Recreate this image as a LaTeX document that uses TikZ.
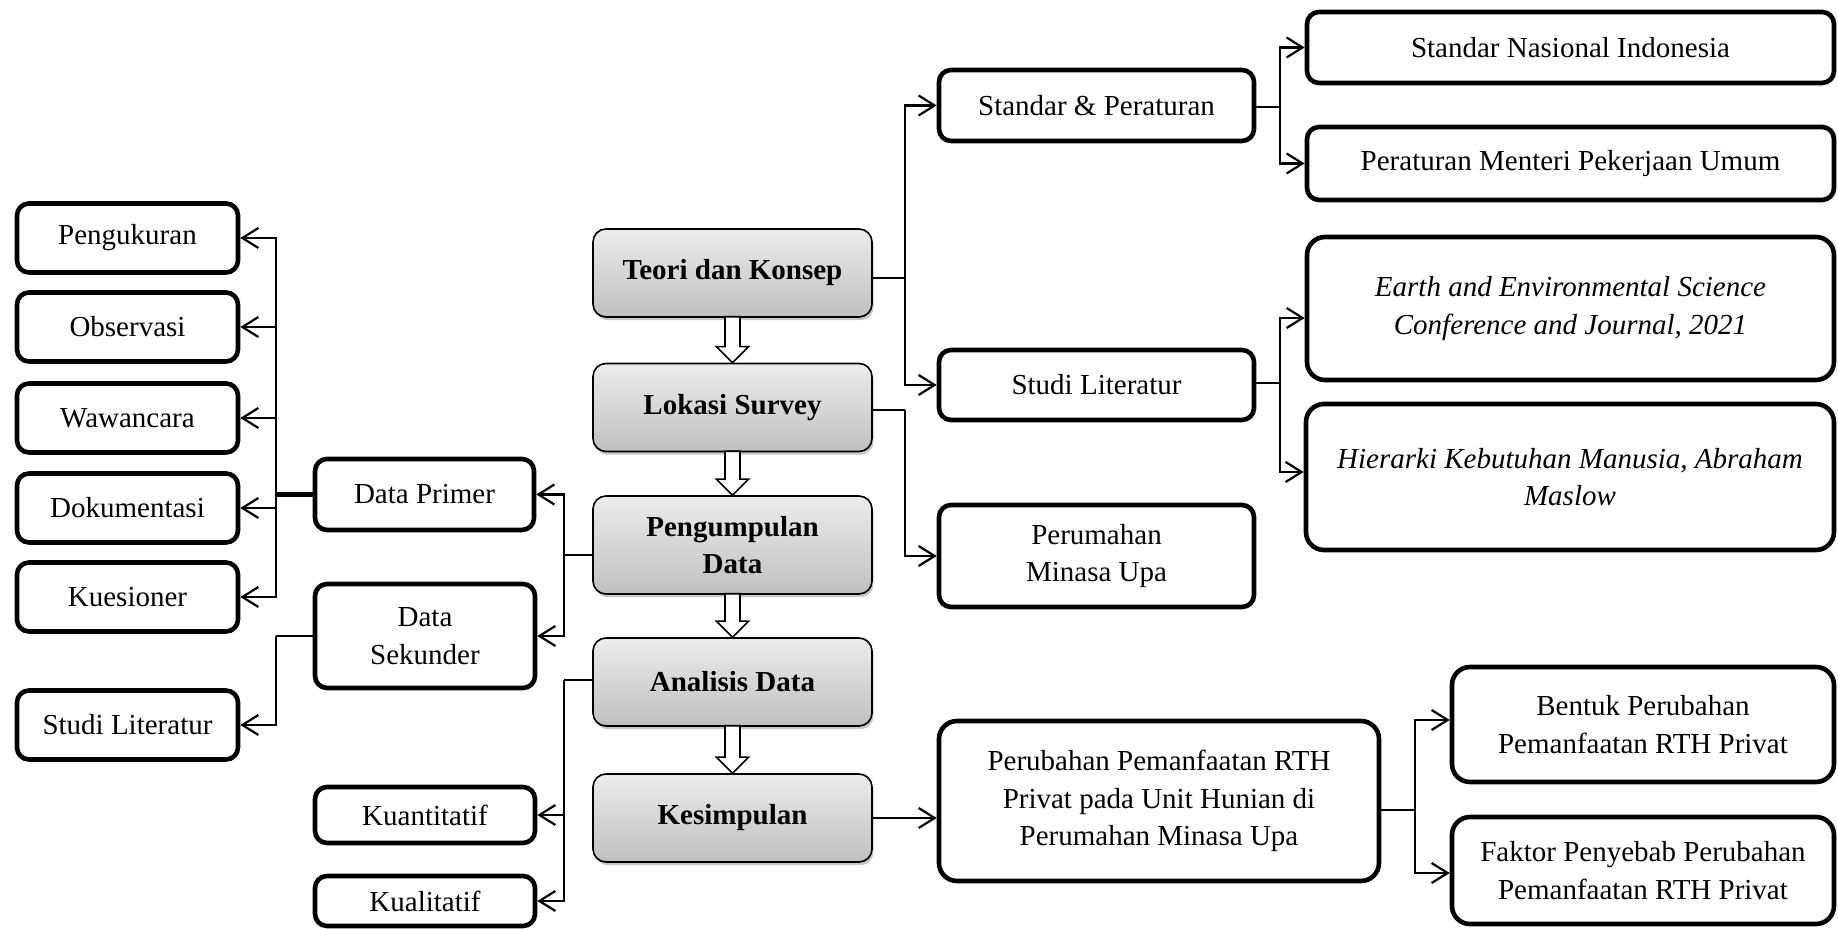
\documentclass[tikz,border=0pt]{standalone}
\usepackage{fontspec}
\setmainfont{Liberation Serif}
\usetikzlibrary{arrows.meta,shadows,calc}
\newcommand\blockarr[2]{\draw[line width=0.8pt,fill=white] ($(#1.south)+(-7.5,-1)$) -- ($(#1.south)+(7.5,-1)$) -- ($(#2.north)+(7.5,-16)$) -- ($(#2.north)+(16,-16)$) -- (#2.north) -- ($(#2.north)+(-16,-16)$) -- ($(#2.north)+(-7.5,-16)$) -- cycle;}
\begin{document}
\begin{tikzpicture}[x=0.5pt,y=-0.5pt,
  every node/.style={inner sep=0pt,align=center,font=\fontsize{14.5}{18.75}\selectfont},
  obox/.style={draw,line width=2.3pt,rounded corners=6pt,fill=white},
  bigbox/.style={obox,rounded corners=9pt},
  cbox/.style={draw,line width=0.8pt,rounded corners=6.5pt,
    top color={rgb,255:red,236;green,236;blue,236},
    bottom color={rgb,255:red,192;green,192;blue,192},
    drop shadow={shadow xshift=0.8pt,shadow yshift=-1.6pt,fill=black!40,opacity=0.55},
    font=\fontsize{14.5}{18.75}\selectfont\bfseries,
    minimum width=139.5pt},
  conn/.style={line width=1.1pt},
  arr/.style={conn,-{Straight Barb[length=8pt,width=10pt,line width=1.1pt]}}
]
\useasboundingbox (0,0) rectangle (1838,929);

% central column
\node[cbox,minimum height=44pt] (teori) at (732.5,273) {Teori dan Konsep};
\node[cbox,minimum height=44pt] (lok) at (732.5,407.5) {Lokasi Survey};
\node[cbox,minimum height=49pt] (pg) at (732.5,545) {Pengumpulan\\Data};
\node[cbox,minimum height=44pt] (ana) at (732.5,682) {Analisis Data};
\node[cbox,minimum height=44pt] (kes) at (732.5,818) {Kesimpulan};

\blockarr{teori}{lok}
\blockarr{lok}{pg}
\blockarr{pg}{ana}
\blockarr{ana}{kes}

% left column
\node[obox,minimum width=110.5pt,minimum height=34.5pt] (peng) at (127.5,238) {Pengukuran};
\node[obox,minimum width=110.5pt,minimum height=34.5pt] (obs) at (127.5,327) {Observasi};
\node[obox,minimum width=110.5pt,minimum height=34.5pt] (waw) at (127.5,418) {Wawancara};
\node[obox,minimum width=110.5pt,minimum height=34.5pt] (dok) at (127.5,508) {Dokumentasi};
\node[obox,minimum width=110.5pt,minimum height=34.5pt] (kue) at (127.5,597) {Kuesioner};
\node[obox,minimum width=110.5pt,minimum height=34.5pt] (sll) at (127.5,725) {Studi Literatur};

\node[obox,minimum width=109.5pt,minimum height=35.5pt] (dp) at (424.5,494.5) {Data Primer};
\node[obox,minimum width=110pt,minimum height=52pt] (ds) at (425,636) {Data\\Sekunder};
\node[obox,minimum width=110pt,minimum height=28pt] (kuant) at (425,815) {Kuantitatif};
\node[obox,minimum width=110pt,minimum height=25pt] (kual) at (425,901) {Kualitatif};

% right middle column
\node[obox,minimum width=157.5pt,minimum height=35.5pt] (sp) at (1096.5,105.5) {Standar \& Peraturan};
\node[obox,minimum width=157.5pt,minimum height=35pt] (slr) at (1096.5,385) {Studi Literatur};
\node[obox,minimum width=157.5pt,minimum height=51pt] (per) at (1096.5,556) {Perumahan\\Minasa Upa};
\node[bigbox,minimum width=220pt,minimum height=80pt] (pr) at (1159,801) {Perubahan Pemanfaatan RTH\\Privat pada Unit Hunian di\\Perumahan Minasa Upa};

% far right column
\node[obox,minimum width=263.5pt,minimum height=35.5pt] (sni) at (1570.5,47.5) {Standar Nasional Indonesia};
\node[obox,minimum width=263.5pt,minimum height=36.5pt] (pm) at (1570.5,163.5) {Peraturan Menteri Pekerjaan Umum};
\node[bigbox,minimum width=263.5pt,minimum height=71.5pt] (earth) at (1570.5,308.5) {\itshape Earth and Environmental Science\\\itshape Conference and Journal, 2021};
\node[bigbox,minimum width=264pt,minimum height=73pt] (hier) at (1570,477) {\itshape Hierarki Kebutuhan Manusia, Abraham\\\itshape Maslow};
\node[bigbox,minimum width=191pt,minimum height=57.5pt] (bent) at (1643,724.5) {Bentuk Perubahan\\Pemanfaatan RTH Privat};
\node[bigbox,minimum width=191pt,minimum height=53.5pt] (fak) at (1643,870.5) {Faktor Penyebab Perubahan\\Pemanfaatan RTH Privat};

% junctions
\coordinate (jl) at (276,494.5);
\coordinate (js) at (276,636);
\coordinate (jm) at (564,555);
\coordinate (ja) at (564,680);
\coordinate (jr1) at (905,278);
\coordinate (jr2) at (905,410);
\coordinate (jsp) at (1280,107);
\coordinate (jsl) at (1280,383);
\coordinate (jpr) at (1415,810);

% left connectors
\draw[line width=2.4pt] (dp.west) -- (jl);
\foreach \t in {peng,obs,waw,dok,kue} \draw[arr] (jl) |- (\t.east);
\draw[conn] (ds.west) -- (js);
\draw[arr] (js) |- (sll.east);

% middle connectors
\draw[conn] (pg.west |- jm) -- (jm);
\draw[arr] (jm) |- (dp.east);
\draw[arr] (jm) |- (ds.east);
\draw[conn] (ana.west |- ja) -- (ja);
\draw[arr] (ja) |- (kuant.east);
\draw[arr] (ja) |- (kual.east);

% right connectors
\draw[conn] (teori.east |- jr1) -- (jr1);
\draw[arr] (jr1) |- (sp.west);
\draw[arr] (jr1) |- (slr.west);
\draw[conn] (lok.east |- jr2) -- (jr2);
\draw[arr] (jr2) |- (per.west);

\draw[conn] (sp.east |- jsp) -- (jsp);
\draw[arr] (jsp) |- (sni.west);
\draw[arr] (jsp) |- (pm.west);
\draw[conn] (slr.east |- jsl) -- (jsl);
\draw[arr] (jsl) |- ($(earth.west)+(0,9.5)$);
\draw[arr] (jsl) |- ($(hier.west)+(0,-5)$);

\draw[arr] (kes.east) -- (kes.east -| pr.west);
\draw[conn] (pr.east |- jpr) -- (jpr);
\draw[arr] (jpr) |- ($(bent.west)+(0,-4.5)$);
\draw[arr] (jpr) |- ($(fak.west)+(0,2.5)$);
\end{tikzpicture}
\end{document}
